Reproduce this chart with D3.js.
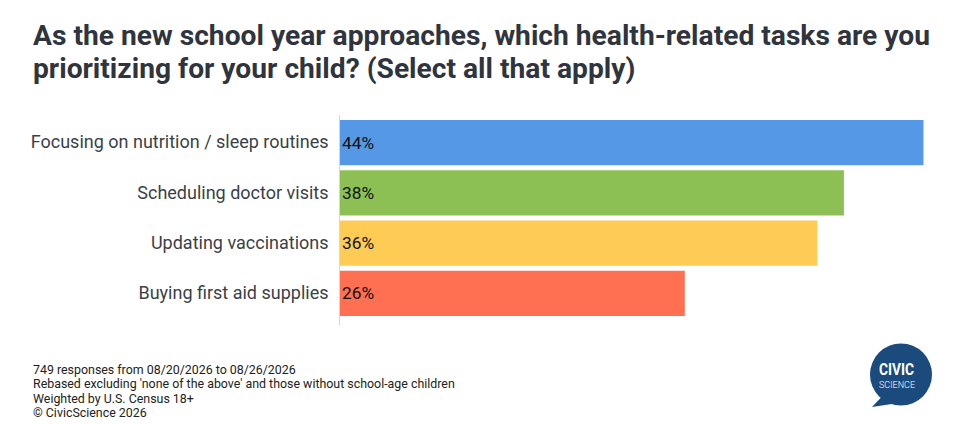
<!DOCTYPE html>
<html>
<head>
<meta charset="utf-8">
<script src="https://cdn.jsdelivr.net/npm/d3@7"></script>
<style>
  body { margin: 0; background: #fff; }
  svg { display: block; font-family: Roboto, "Noto Sans", sans-serif; }
</style>
</head>
<body>
<svg id="chart" width="966" height="424"></svg>
<script>
// data
var categories = [
  "Focusing on nutrition / sleep routines",
  "Scheduling doctor visits",
  "Updating vaccinations",
  "Buying first aid supplies"
];
var values = [44, 38, 36, 26];
var barColors = ["#5599e6", "#8dc054", "#fecc55", "#ff6f52"];
var titleLines = [
  "As the new school year approaches, which health-related tasks are you",
  "prioritizing for your child? (Select all that apply)"
];
var footnotes = [
  "749 responses from 08/20/2026 to 08/26/2026",
  "Rebased excluding 'none of the above' and those without school-age children",
  "Weighted by U.S. Census 18+",
  "\u00a9 CivicScience 2026"
];

var svg = d3.select("#chart");

// title
svg.append("g").selectAll("text")
  .data(titleLines)
  .join("text")
  .attr("x", 33)
  .attr("y", function(d, i) { return 45 + i * 33; })
  .attr("font-size", 28.2)
  .attr("font-weight", 700)
  .attr("fill", "#2f343d")
  .text(function(d) { return d; });

var x = d3.scaleLinear().domain([0, d3.max(values)]).range([340, 923.5]);
var y = d3.scaleBand().domain(categories).range([117.5, 318.5])
  .paddingInner(0.1).paddingOuter(0.05);

var rows = categories.map(function(c, i) {
  return { cat: c, val: values[i], color: barColors[i] };
});

// bars
svg.append("g").selectAll("rect")
  .data(rows)
  .join("rect")
  .attr("x", x(0))
  .attr("y", function(d) { return y(d.cat); })
  .attr("width", function(d) { return x(d.val) - x(0); })
  .attr("height", y.bandwidth())
  .attr("fill", function(d) { return d.color; });

// axis line
svg.append("line")
  .attr("x1", 339.5).attr("x2", 339.5)
  .attr("y1", 115).attr("y2", 325)
  .attr("stroke", "#d6d6d6").attr("stroke-width", 1);

// category labels
var yAxis = d3.axisLeft(y).tickSize(0).tickPadding(11);
var ga = svg.append("g").attr("transform", "translate(339.5,0)").call(yAxis);
ga.select(".domain").remove();
ga.selectAll("text")
  .attr("font-size", 18)
  .attr("font-family", "Roboto, sans-serif")
  .attr("fill", "#3a3f48");

// value labels
svg.append("g").selectAll("text")
  .data(rows)
  .join("text")
  .attr("x", x(0) + 2)
  .attr("y", function(d) { return y(d.cat) + y.bandwidth() / 2; })
  .attr("dy", "0.35em")
  .attr("font-size", 17.3)
  .attr("fill", "#111")
  .text(function(d) { return d.val + "%"; });

// footnotes
svg.append("g").selectAll("text")
  .data(footnotes)
  .join("text")
  .attr("x", 33)
  .attr("y", function(d, i) { return 373.5 + i * 14.5; })
  .attr("font-size", 12.4)
  .attr("fill", "#222")
  .text(function(d) { return d; });

// logo
var logo = svg.append("g").attr("transform", "translate(901,374.5)");
logo.append("path")
  .attr("d", "M-19,22 L-29,32.5 L-6,29 Z")
  .attr("fill", "#1b4a7c");
logo.append("circle").attr("r", 31).attr("fill", "#1b4a7c");
logo.append("text")
  .attr("text-anchor", "middle").attr("x", -4.5).attr("y", 0.5)
  .attr("font-size", 16).attr("font-weight", 700)
  .attr("textLength", 35).attr("lengthAdjust", "spacingAndGlyphs")
  .attr("fill", "#fff").text("CIVIC");
logo.append("text")
  .attr("text-anchor", "middle").attr("x", -4).attr("y", 13.5)
  .attr("font-size", 9).attr("font-weight", 300)
  .attr("textLength", 36).attr("lengthAdjust", "spacingAndGlyphs")
  .attr("fill", "#fff").text("SCIENCE");
</script>
</body>
</html>
